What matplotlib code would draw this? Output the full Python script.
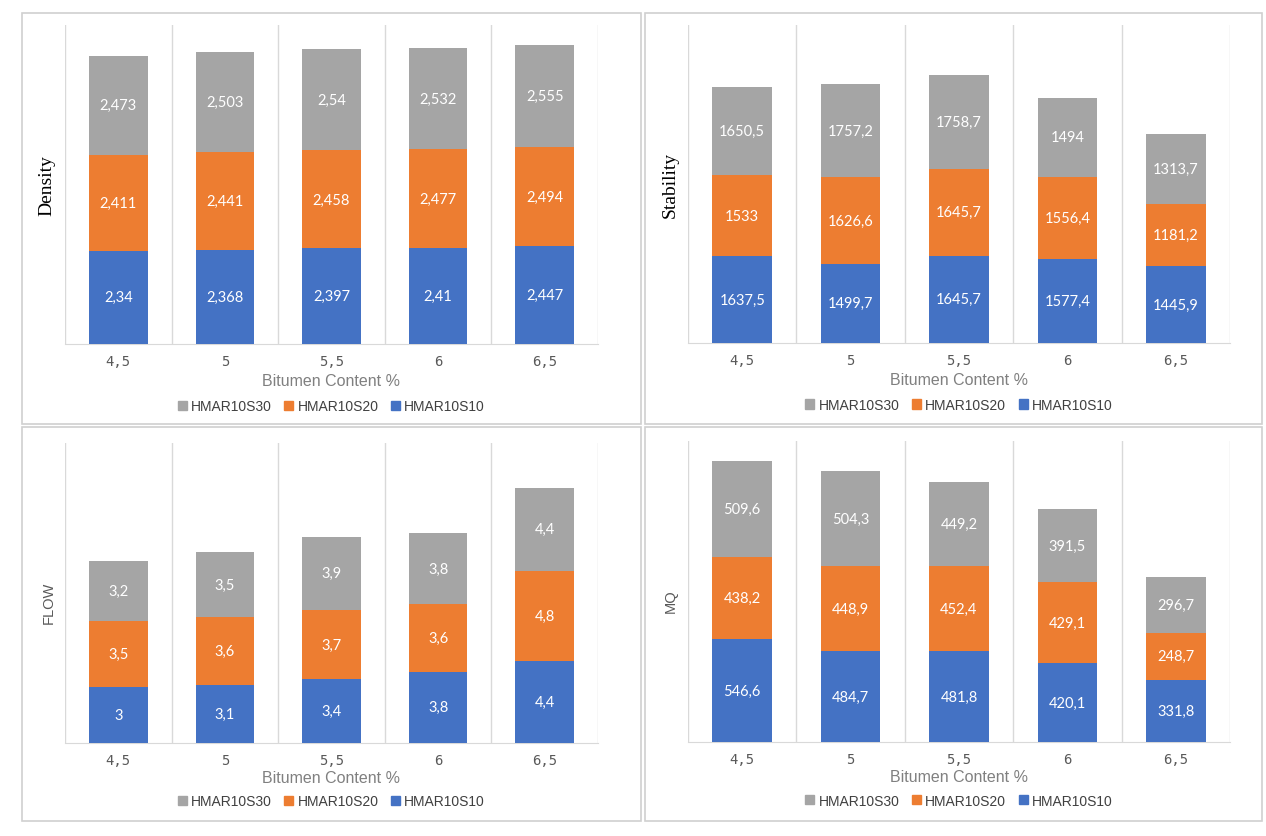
import matplotlib
matplotlib.use('Agg')
import matplotlib.pyplot as plt
from matplotlib.patches import Rectangle, Patch

# data
categories = ['4,5', '5', '5,5', '6', '6,5']
series_names = ['HMAR10S10', 'HMAR10S20', 'HMAR10S30']

density_s10 = [2.34, 2.368, 2.397, 2.41, 2.447]
density_s20 = [2.411, 2.441, 2.458, 2.477, 2.494]
density_s30 = [2.473, 2.503, 2.54, 2.532, 2.555]

stability_s10 = [1637.5, 1499.7, 1645.7, 1577.4, 1445.9]
stability_s20 = [1533, 1626.6, 1645.7, 1556.4, 1181.2]
stability_s30 = [1650.5, 1757.2, 1758.7, 1494, 1313.7]

flow_s10 = [3, 3.1, 3.4, 3.8, 4.4]
flow_s20 = [3.5, 3.6, 3.7, 3.6, 4.8]
flow_s30 = [3.2, 3.5, 3.9, 3.8, 4.4]

mq_s10 = [546.6, 484.7, 481.8, 420.1, 331.8]
mq_s20 = [438.2, 448.9, 452.4, 429.1, 248.7]
mq_s30 = [509.6, 504.3, 449.2, 391.5, 296.7]

colors = ['#4472C4', '#ED7D31', '#A5A5A5']
W, H = 1266, 837


def fmt(v):
    return f"{v:g}".replace('.', ',')


def draw_panel(ax, s10, s20, s30, ymax, ylabel, serif):
    x = range(len(categories))
    bottom = [0] * len(categories)
    for vals, c in zip([s10, s20, s30], colors):
        bars = ax.bar(x, vals, 0.55, bottom=bottom, color=c, zorder=3)
        ax.bar_label(bars, labels=[fmt(v) for v in vals], label_type='center',
                     color='white', fontsize=10.5, family='Lato')
        bottom = [b + v for b, v in zip(bottom, vals)]
    ax.set_xlim(-0.5, len(categories) - 0.5)
    ax.set_ylim(0, ymax)
    for i in range(len(categories) + 1):
        ax.axvline(i - 0.5, color='#D9D9D9', lw=1, zorder=1)
    for s in ['top', 'left', 'right']:
        ax.spines[s].set_visible(False)
    ax.spines['bottom'].set_color('#D9D9D9')
    ax.set_yticks([])
    ax.set_xticks(list(x))
    ax.set_xticklabels(categories, family='DejaVu Sans Mono', fontsize=10, color='#595959')
    ax.tick_params(axis='x', length=0, pad=7)
    if serif:
        ax.set_ylabel(ylabel, family='Liberation Serif', fontsize=14, color='black', labelpad=7)
    else:
        ax.set_ylabel(ylabel, family='Liberation Sans', fontsize=10.5, color='#595959')
        ax.yaxis.set_label_coords(-0.018, 0.47)
    ax.text(0.5, -0.115, 'Bitumen Content %', transform=ax.transAxes, ha='center', va='center',
            family='Liberation Sans', fontsize=11.5, color='#808080')
    handles = [Patch(color=colors[2], label=series_names[2]),
               Patch(color=colors[1], label=series_names[1]),
               Patch(color=colors[0], label=series_names[0])]
    ax.legend(handles=handles, loc='center', bbox_to_anchor=(0.5, -0.195), ncol=3, frameon=False,
              handlelength=0.65, handleheight=0.65, handletextpad=0.3, columnspacing=0.9,
              prop={'family': 'Liberation Sans', 'size': 10}, labelcolor='#404040')


fig = plt.figure(figsize=(W / 100, H / 100), dpi=100)

# panel borders (pixel boxes)
for x0, y0, x1, y1 in [(22, 14, 641, 425), (645, 14, 1262, 425),
                       (22, 428, 641, 822), (645, 428, 1262, 822)]:
    fig.patches.append(Rectangle((x0 / W, 1 - y1 / H), (x1 - x0) / W, (y1 - y0) / H,
                                 transform=fig.transFigure, fill=False,
                                 edgecolor='#D0D0D0', lw=1.2))

ax1 = fig.add_axes([65 / W, 1 - 345 / H, 533 / W, 319 / H])
ax2 = fig.add_axes([688 / W, 1 - 344 / H, 542 / W, 318 / H])
ax3 = fig.add_axes([65 / W, 1 - 744 / H, 533 / W, 300 / H])
ax4 = fig.add_axes([688 / W, 1 - 743 / H, 542 / W, 301 / H])

draw_panel(ax1, density_s10, density_s20, density_s30, 8, 'Density', True)
draw_panel(ax2, stability_s10, stability_s20, stability_s30, 6000, 'Stability', True)
draw_panel(ax3, flow_s10, flow_s20, flow_s30, 16, 'FLOW', False)
draw_panel(ax4, mq_s10, mq_s20, mq_s30, 1600, 'MQ', False)

fig.savefig('out.png', dpi=100)
